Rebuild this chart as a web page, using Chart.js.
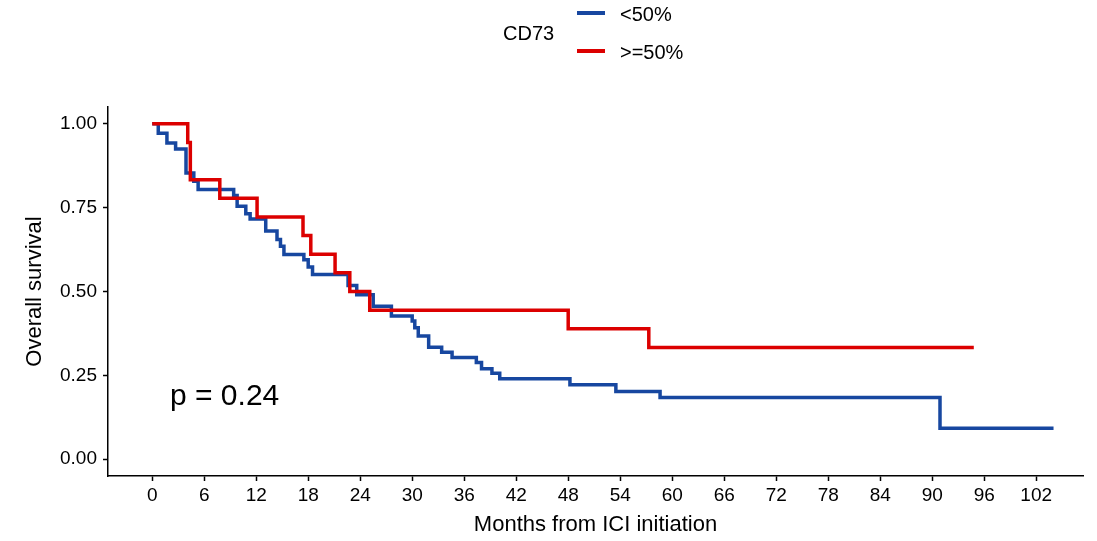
<!DOCTYPE html>
<html>
<head>
<meta charset="utf-8">
<script src="https://cdn.jsdelivr.net/npm/chart.js@4"></script>
<style>
  body { margin: 0; background: #fff; }
  .wrap { position: relative; width: 1097px; height: 541px; font-family: "Liberation Sans", Arial, sans-serif; color: #000; }
  .wrap canvas { position: absolute; left: 0; top: 0; }
  .lbl { position: absolute; white-space: nowrap; line-height: 1; }
  .key { position: absolute; width: 28px; height: 4px; }
</style>
</head>
<body>
<div class="wrap">
  <canvas id="myChart" width="1097" height="541"></canvas>
  <div class="lbl" id="legTitle" style="left:503px; top:23px; font-size:20px;"></div>
  <div class="key" id="key0" style="left:577px; top:11px;"></div>
  <div class="lbl" id="leg0" style="left:620px; top:4px; font-size:20px;"></div>
  <div class="key" id="key1" style="left:577px; top:49px;"></div>
  <div class="lbl" id="leg1" style="left:620px; top:42px; font-size:20px;"></div>
  <div class="lbl" id="pval" style="left:170px; top:380px; font-size:30px;"></div>
</div>
<script>
// survival steps (months, survival after the drop)
const lowMonths = [0, 0.7, 1.7, 2.7, 3.9, 4.8, 5.3, 9.4, 9.8, 10.8, 11.3, 13.1, 14.4, 14.8, 15.2, 17.5, 18.0, 18.5,
    22.6, 23.6, 25.5, 27.6, 30.0, 30.3, 30.7, 31.9, 33.4, 34.6, 37.4, 38.0, 39.2, 40.1, 48.2, 53.5, 58.6, 90.9, 104.0];
const lowSurv = [1.0, 0.972, 0.943, 0.925, 0.853, 0.829, 0.804, 0.786, 0.754, 0.732, 0.716, 0.680, 0.655, 0.635, 0.610, 0.595, 0.573, 0.551,
    0.518, 0.490, 0.456, 0.427, 0.412, 0.392, 0.367, 0.334, 0.319, 0.303, 0.288, 0.270, 0.256, 0.240, 0.222, 0.202, 0.184, 0.092, 0.092];
const highMonths = [0, 4.1, 4.4, 7.8, 12.1, 17.4, 18.3, 21.1, 22.8, 25.1, 48.0, 57.3, 94.8];
const highSurv = [1.0, 0.944, 0.833, 0.778, 0.722, 0.667, 0.611, 0.556, 0.5, 0.444, 0.389, 0.333, 0.333];

const groupNames = ["<50%", ">=50%"];
const groupColors = ["#1747a0", "#dc0000"];
const legendTitle = "CD73";
const pText = "p = 0.24";
const xTicks = [0, 6, 12, 18, 24, 30, 36, 42, 48, 54, 60, 66, 72, 78, 84, 90, 96, 102];
const yTicks = [0, 0.25, 0.5, 0.75, 1.0];

const fontFam = "'Liberation Sans', Arial, sans-serif";

function toPoints(xs, ys) {
    let pts = [];
    for (let i = 0; i < xs.length; i++) {
        pts.push({ x: xs[i], y: ys[i] });
    }
    return pts;
}

// html legend + p value
document.getElementById("legTitle").textContent = legendTitle;
document.getElementById("leg0").textContent = groupNames[0];
document.getElementById("leg1").textContent = groupNames[1];
document.getElementById("key0").style.background = groupColors[0];
document.getElementById("key1").style.background = groupColors[1];
document.getElementById("pval").textContent = pText;

const ctx = document.getElementById("myChart");
const myChart = new Chart(ctx, {
    type: "line",
    data: {
        datasets: [
            {
                label: groupNames[0],
                data: toPoints(lowMonths, lowSurv),
                borderColor: groupColors[0],
                borderWidth: 3.5,
                stepped: true,
                pointRadius: 0,
                fill: false,
                order: 1
            },
            {
                label: groupNames[1],
                data: toPoints(highMonths, highSurv),
                borderColor: groupColors[1],
                borderWidth: 3.5,
                stepped: true,
                pointRadius: 0,
                fill: false,
                order: 0   // red drawn on top
            }
        ]
    },
    options: {
        responsive: false,
        animation: false,
        layout: { padding: { top: 107, right: 14, left: 0, bottom: 0 } },
        plugins: {
            legend: { display: false },
            tooltip: { enabled: false }
        },
        scales: {
            x: {
                type: "linear",
                min: -5.1,
                max: 107.4,
                afterBuildTicks: (scale) => { scale.ticks = xTicks.map(v => ({ value: v })); },
                afterFit: (scale) => { scale.height = 65; },
                grid: { drawOnChartArea: false, drawTicks: true, tickLength: 5, tickColor: "#000", tickWidth: 1.5 },
                border: { display: true, color: "#000", width: 1.5 },
                ticks: {
                    color: "#000",
                    padding: 3,
                    maxRotation: 0,
                    autoSkip: false,
                    font: { family: fontFam, size: 19 }
                },
                title: {
                    display: true,
                    text: "Months from ICI initiation",
                    color: "#000",
                    padding: { top: 0, bottom: 3 },
                    font: { family: fontFam, size: 22 }
                }
            },
            y: {
                min: -0.05,
                max: 1.05,
                afterBuildTicks: (scale) => { scale.ticks = yTicks.map(v => ({ value: v })); },
                afterFit: (scale) => { scale.width = 108; },
                grid: { drawOnChartArea: false, drawTicks: true, tickLength: 5, tickColor: "#000", tickWidth: 1.5 },
                border: { display: true, color: "#000", width: 1.5 },
                ticks: {
                    color: "#000",
                    padding: 6,
                    font: { family: fontFam, size: 19 },
                    callback: (v) => Number(v).toFixed(2)
                },
                title: {
                    display: true,
                    text: "Overall survival",
                    color: "#000",
                    padding: { top: 22, bottom: 0 },
                    font: { family: fontFam, size: 22 }
                }
            }
        }
    }
});
</script>
</body>
</html>
